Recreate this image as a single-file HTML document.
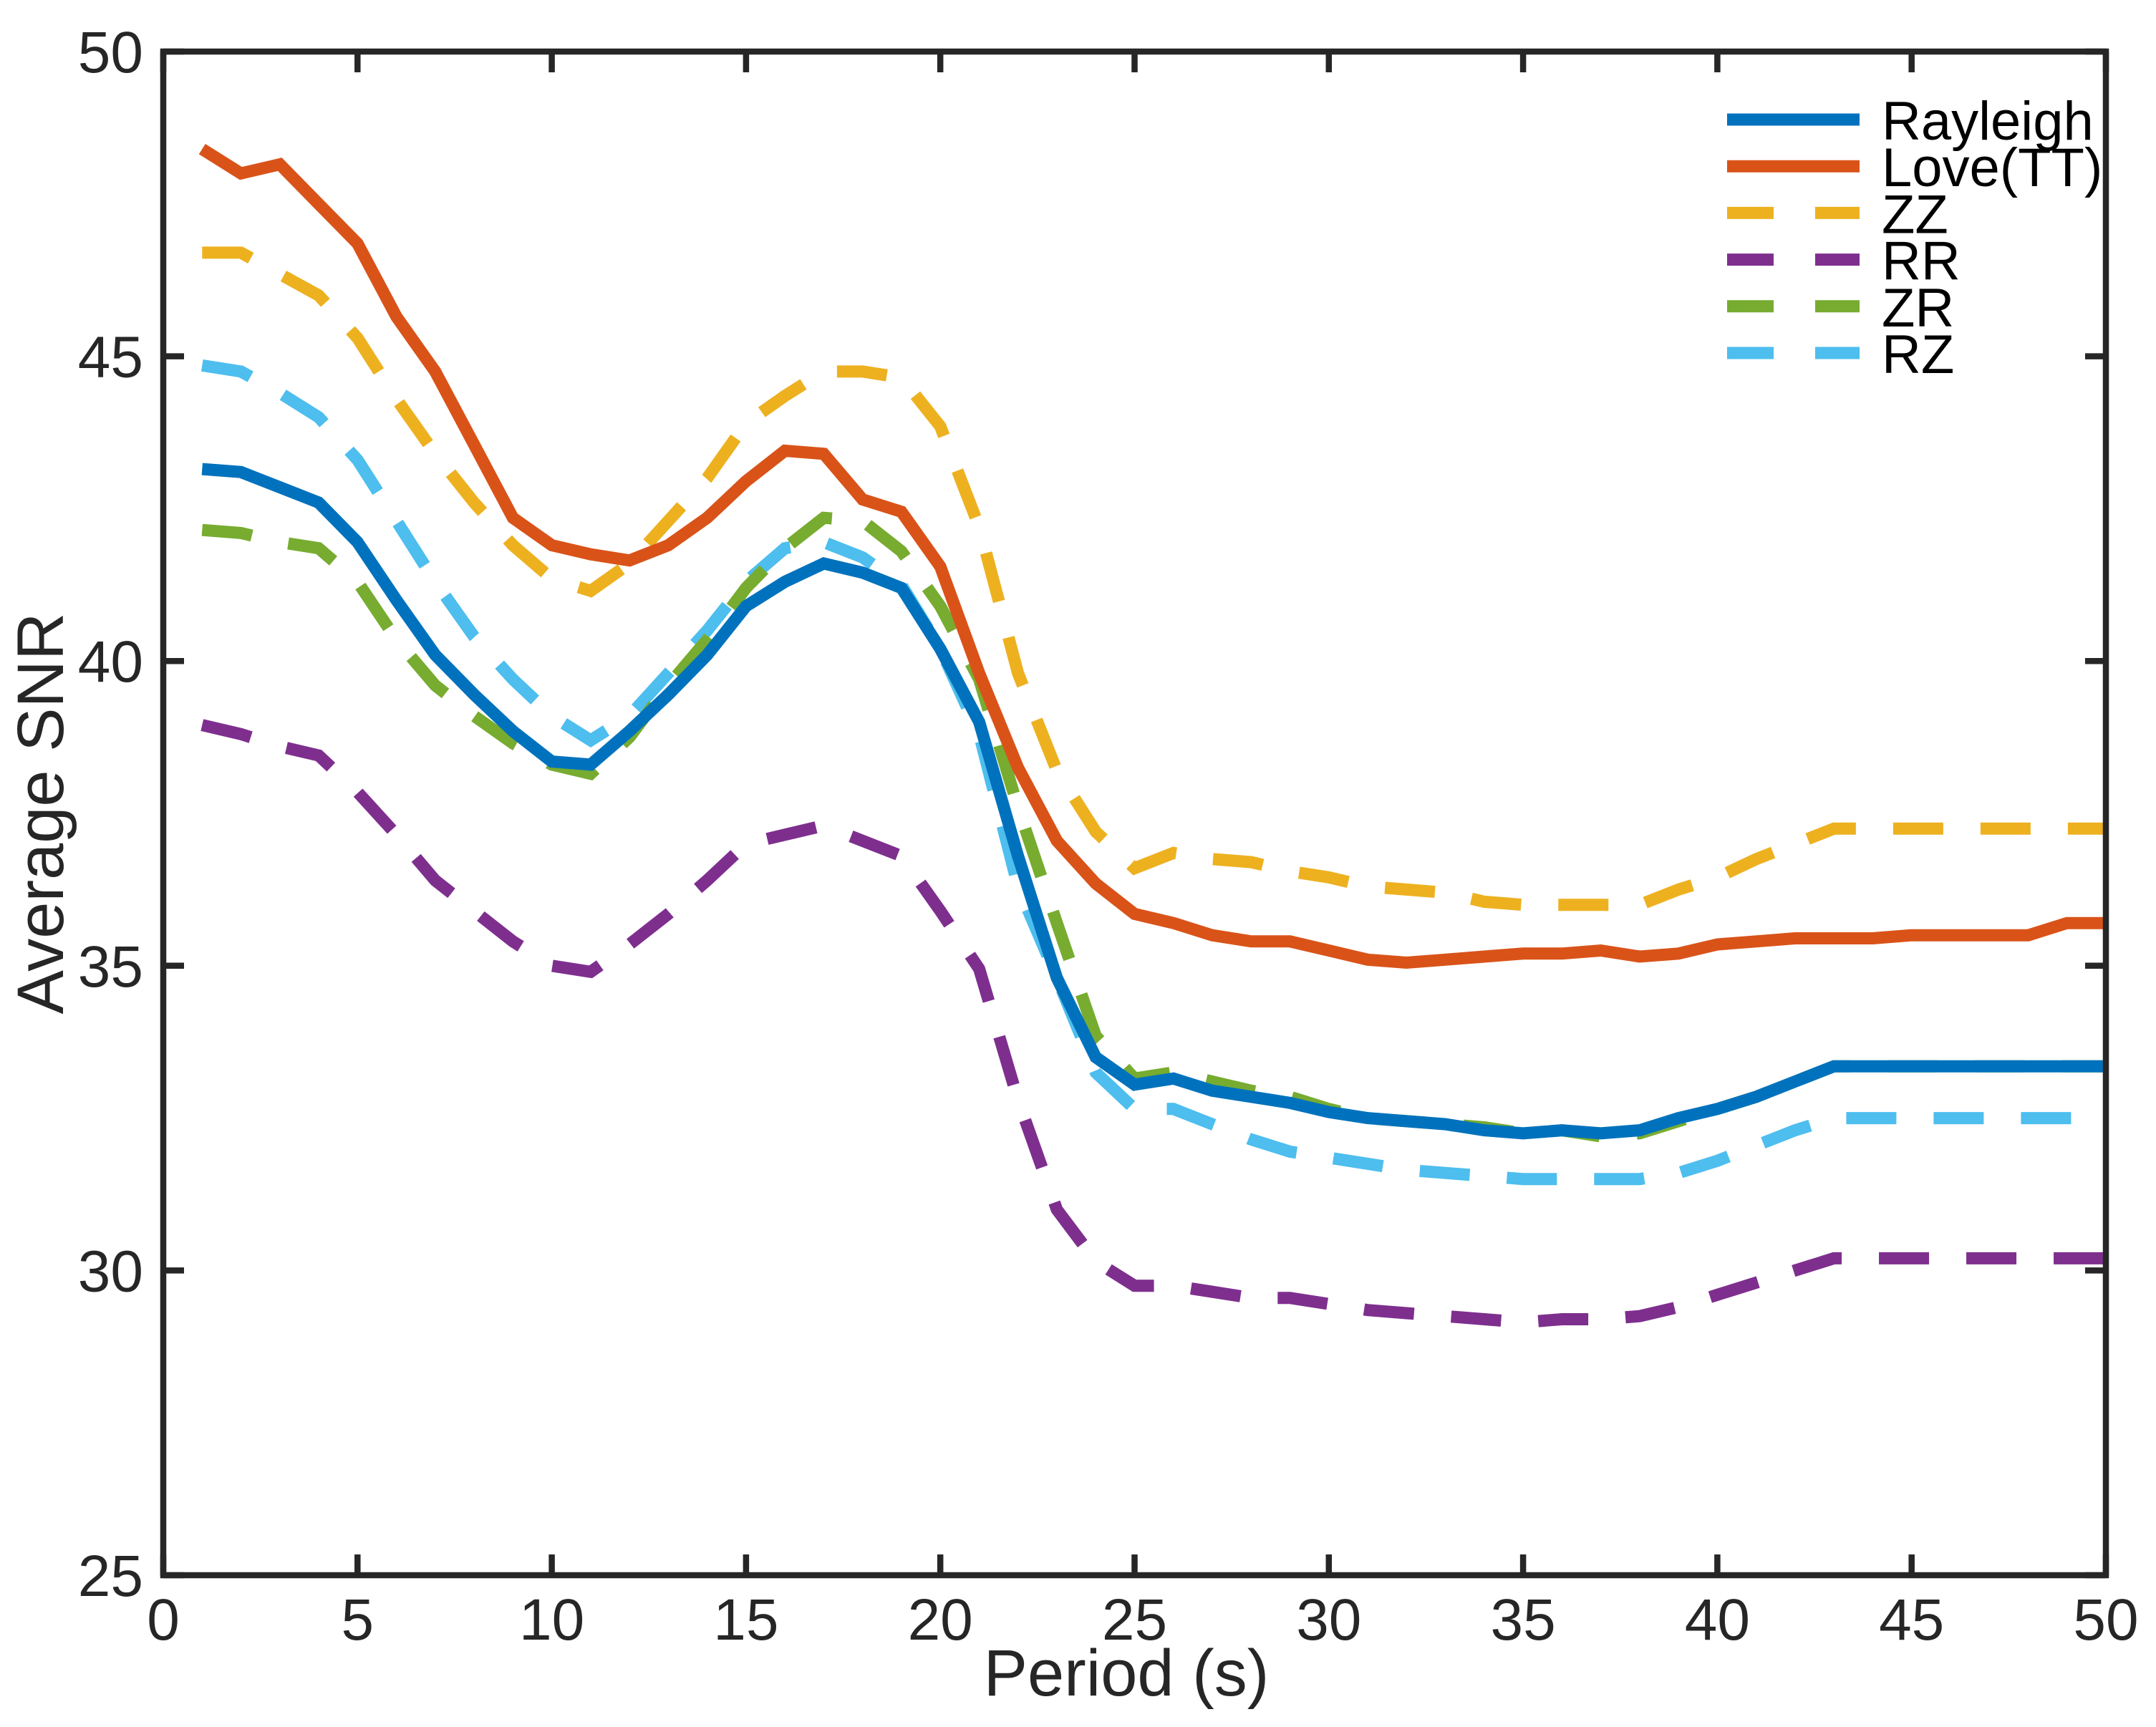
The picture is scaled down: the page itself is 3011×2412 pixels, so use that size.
<!DOCTYPE html>
<html><head><meta charset="utf-8"><style>
html,body{margin:0;padding:0;background:#fff;}
svg{display:block;font-family:"Liberation Sans",Arial,sans-serif;}
</style></head><body>
<svg id="chart" width="3011" height="2412" viewBox="0 0 3011 2412" xmlns="http://www.w3.org/2000/svg">
<rect width="3011" height="2412" fill="#fff"/>
<g id="series"></g>
<g id="axes"></g>
<g id="legend"></g>
<text x="1573" y="2368" font-size="92" text-anchor="middle" fill="#262626">Period (s)</text>
<text transform="translate(88,1136) rotate(-90)" font-size="92" text-anchor="middle" fill="#262626">Average SNR</text>
</svg>
<script>
const periods = Array.from({length:50},(_, i)=>i+1);
const rayleigh = [43.15,43.1,42.85,42.6,41.95,41.0,40.1,39.45,38.85,38.35,38.3,38.85,39.45,40.1,40.9,41.3,41.6,41.45,41.2,40.2,39.0,36.8,34.8,33.5,33.05,33.15,32.95,32.85,32.75,32.6,32.5,32.45,32.4,32.3,32.25,32.3,32.25,32.3,32.5,32.65,32.85,33.1,33.35,33.35,33.35,33.35,33.35,33.35,33.35,33.35];
const love = [48.4,48.0,48.15,47.5,46.85,45.65,44.75,43.55,42.35,41.9,41.75,41.65,41.9,42.35,42.95,43.45,43.4,42.65,42.45,41.55,39.8,38.25,37.05,36.35,35.85,35.7,35.5,35.4,35.4,35.25,35.1,35.05,35.1,35.15,35.2,35.2,35.25,35.15,35.2,35.35,35.4,35.45,35.45,35.45,35.5,35.5,35.5,35.5,35.7,35.7];
const zz = [46.7,46.7,46.35,46.0,45.3,44.3,43.4,42.6,41.9,41.35,41.15,41.6,42.3,43.0,43.9,44.35,44.75,44.75,44.65,43.85,42.2,39.8,38.2,37.2,36.6,36.85,36.75,36.7,36.55,36.45,36.3,36.25,36.2,36.05,36.0,36.0,36.0,36.0,36.25,36.45,36.75,37.0,37.25,37.25,37.25,37.25,37.25,37.25,37.25,37.25];
const rr = [38.95,38.8,38.6,38.45,37.85,37.15,36.4,35.9,35.4,35.0,34.9,35.35,35.85,36.4,37.0,37.15,37.3,37.05,36.8,35.9,34.95,32.8,31.0,30.15,29.75,29.75,29.65,29.55,29.55,29.45,29.35,29.3,29.25,29.2,29.15,29.2,29.2,29.25,29.4,29.6,29.8,30.0,30.2,30.2,30.2,30.2,30.2,30.2,30.2,30.2];
const zr = [42.15,42.1,41.95,41.85,41.3,40.35,39.6,39.1,38.65,38.3,38.15,38.75,39.6,40.35,41.2,41.85,42.35,42.3,41.8,40.9,39.7,37.6,35.7,33.85,33.15,33.25,33.1,32.95,32.85,32.65,32.5,32.45,32.4,32.35,32.25,32.3,32.2,32.25,32.45,32.65,32.85,33.1,33.35,33.35,33.35,33.35,33.35,33.35,33.35,33.35];
const rz = [44.85,44.75,44.4,44.0,43.3,42.3,41.3,40.4,39.7,39.1,38.7,39.1,39.8,40.5,41.3,41.85,41.95,41.7,41.25,40.2,38.8,36.3,34.8,33.25,32.65,32.65,32.4,32.15,31.95,31.85,31.75,31.65,31.6,31.55,31.5,31.5,31.5,31.5,31.6,31.8,32.05,32.3,32.5,32.5,32.5,32.5,32.5,32.5,32.5,32.5];
const seriesNames = ["Rayleigh","Love(TT)","ZZ","RR","ZR","RZ"];
const xTicks = [0,5,10,15,20,25,30,35,40,45,50];
const yTicks = [25,30,35,40,45,50];

const NS="http://www.w3.org/2000/svg";
const L=228,R=2941,T=72,B=2200;
const xs=v=>L+(v-0)/(50-0)*(R-L);
const ys=v=>B-(v-25)/(50-25)*(B-T);
function mk(tag,attrs,parent){const e=document.createElementNS(NS,tag);for(const k in attrs)e.setAttribute(k,attrs[k]);parent.appendChild(e);return e;}
const styles=[
 {data:rayleigh,color:"#0072BD",dash:null,name:"series-rayleigh"},
 {data:love,color:"#D95319",dash:null,name:"series-love"},
 {data:zz,color:"#EDB120",dash:"70 52",name:"series-zz"},
 {data:rr,color:"#7E2F8E",dash:"70 52",name:"series-rr"},
 {data:zr,color:"#77AC30",dash:"70 52",name:"series-zr"},
 {data:rz,color:"#4DBEEE",dash:"70 52",name:"series-rz"}
];
const sg=document.getElementById('series');
[5,3,4,2,1,0].forEach(i=>{
 const s=styles[i];
 const d=s.data.map((v,j)=>(j?'L':'M')+xs(periods[j]).toFixed(1)+','+ys(v).toFixed(1)).join(' ');
 const p=mk('path',{d:d,fill:'none',stroke:s.color,'stroke-width':17,'stroke-linejoin':'miter'},sg);
 if(s.dash)p.setAttribute('stroke-dasharray',s.dash);
 
 
});
const ax=document.getElementById('axes');
const box=mk('rect',{x:L,y:T,width:R-L,height:B-T,fill:'none',stroke:'#262626','stroke-width':8.5},ax);


xTicks.forEach(t=>{
 const x=xs(t);
 mk('line',{x1:x,y1:B,x2:x,y2:B-29,stroke:'#262626','stroke-width':8.5},ax);
 mk('line',{x1:x,y1:T,x2:x,y2:T+29,stroke:'#262626','stroke-width':8.5},ax);
 const tx=mk('text',{x:x,y:2290,'font-size':82,'text-anchor':'middle',fill:'#262626'},ax);
 tx.textContent=t;
 
 
});
yTicks.forEach(t=>{
 const y=ys(t);
 mk('line',{x1:L,y1:y,x2:L+29,y2:y,stroke:'#262626','stroke-width':8.5},ax);
 mk('line',{x1:R,y1:y,x2:R-29,y2:y,stroke:'#262626','stroke-width':8.5},ax);
 const tx=mk('text',{x:200,y:y+29,'font-size':82,'text-anchor':'end',fill:'#262626'},ax);
 tx.textContent=t;
 
 
});
const lg=document.getElementById('legend');
styles.forEach((s,i)=>{
 const y=167+i*65.2;
 const g=mk('g',{},lg);
 
 
 const ln=mk('line',{x1:2412,y1:y,x2:2597,y2:y,stroke:s.color,'stroke-width':17},g);
 if(s.dash)ln.setAttribute('stroke-dasharray','65 58');
 const tx=mk('text',{x:2628,y:y+28,'font-size':76,fill:'#000'},g);
 tx.textContent=seriesNames[i];
});
</script>
</body></html>
